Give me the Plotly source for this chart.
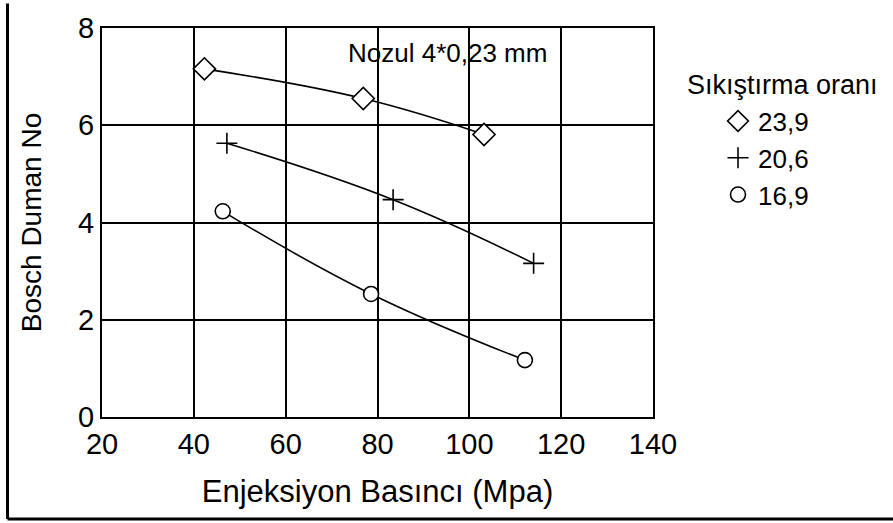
import plotly.graph_objects as go

# ---- data ----
pressure_239 = [42.3, 76.9, 103.2]
smoke_239 = [7.16, 6.55, 5.81]
pressure_206 = [47.2, 83.4, 114.0]
smoke_206 = [5.63, 4.47, 3.16]
pressure_169 = [46.3, 78.6, 112.1]
smoke_169 = [4.23, 2.53, 1.17]
series_names = ["23,9", "20,6", "16,9"]
x_ticks = [20, 40, 60, 80, 100, 120, 140]
y_ticks = [0, 2, 4, 6, 8]

W, H = 893, 523
ML, MR, MT, MB = 102, 240, 20, 106
PW, PH = W - ML - MR, H - MT - MB
FONT = "Liberation Sans, Arial, sans-serif"

def px2paper_x(px):
    return (px - ML) / PW

def py2paper_y(py):
    return (H - MB - py) / PH

fig = go.Figure()
line_style = dict(color="black", width=1.6, shape="spline", smoothing=1.2)
markers = [
    dict(symbol="diamond", size=17, color="white", line=dict(color="black", width=1.6)),
    dict(symbol="cross-thin", size=15, color="black", line=dict(color="black", width=1.6)),
    dict(symbol="circle", size=15, color="white", line=dict(color="black", width=1.6)),
]
series = [(pressure_239, smoke_239), (pressure_206, smoke_206), (pressure_169, smoke_169)]

for (xs, ys), mk, nm in zip(series, markers, series_names):
    fig.add_trace(go.Scatter(x=xs, y=ys, name=nm, mode="lines+markers",
                             line=line_style, marker=mk, showlegend=False))
# legend entries (markers only, like the reference)
for mk, nm in zip(markers, series_names):
    fig.add_trace(go.Scatter(x=[None], y=[None], name=nm, mode="markers",
                             marker=mk, showlegend=True))

# white patch behind the "Nozul" label, hiding the gridlines there
fig.add_shape(type="rect", xref="x", yref="paper", layer="between",
              x0=71.5, x1=118.0, y0=py2paper_y(72), y1=py2paper_y(21),
              fillcolor="white", line=dict(width=0))
fig.add_annotation(
    x=95.2, y=7.49, xref="x", yref="y", text="Nozul 4*0,23 mm", showarrow=False,
    font=dict(family=FONT, size=26, color="black"),
)
fig.add_annotation(
    x=px2paper_x(782), y=py2paper_y(78), xref="paper", yref="paper",
    text="Sıkıştırma oranı", showarrow=False, xanchor="center", yanchor="middle",
    font=dict(family=FONT, size=27, color="black"),
)

# outer frame (left and bottom edges visible in the reference)
fig.add_shape(type="line", xref="paper", yref="paper",
              x0=px2paper_x(7.5), x1=px2paper_x(7.5), y0=py2paper_y(-5), y1=py2paper_y(521),
              line=dict(color="black", width=3))
fig.add_shape(type="line", xref="paper", yref="paper",
              x0=px2paper_x(7.5), x1=px2paper_x(900), y0=py2paper_y(521), y1=py2paper_y(521),
              line=dict(color="black", width=3))

axis_common = dict(
    showgrid=True, gridcolor="black", gridwidth=1.6,
    showline=True, linecolor="black", linewidth=2, mirror=True,
    zeroline=False, ticks="", tickfont=dict(family=FONT, size=29, color="black"),
)
fig.update_xaxes(range=[20, 140], tickvals=x_ticks, ticktext=[str(v) for v in x_ticks],
                 title=dict(text="Enjeksiyon Basıncı (Mpa)", font=dict(family=FONT, size=31, color="black"), standoff=22),
                 **axis_common)
fig.update_yaxes(range=[0, 8], tickvals=y_ticks, ticktext=[str(v) for v in y_ticks],
                 title=dict(text="Bosch Duman No", font=dict(family=FONT, size=28, color="black"), standoff=28),
                 **axis_common)

fig.update_layout(
    width=W, height=H,
    margin=dict(l=ML, r=MR, t=MT, b=MB),
    paper_bgcolor="white", plot_bgcolor="white",
    font=dict(family=FONT, color="black"),
    showlegend=True,
    legend=dict(
        font=dict(family=FONT, size=26, color="black"),
        x=px2paper_x(718), xanchor="left", y=py2paper_y(91), yanchor="top",
        bgcolor="rgba(0,0,0,0)", itemwidth=30, tracegroupgap=0,
    ),
)

fig.write_html("out.html")
